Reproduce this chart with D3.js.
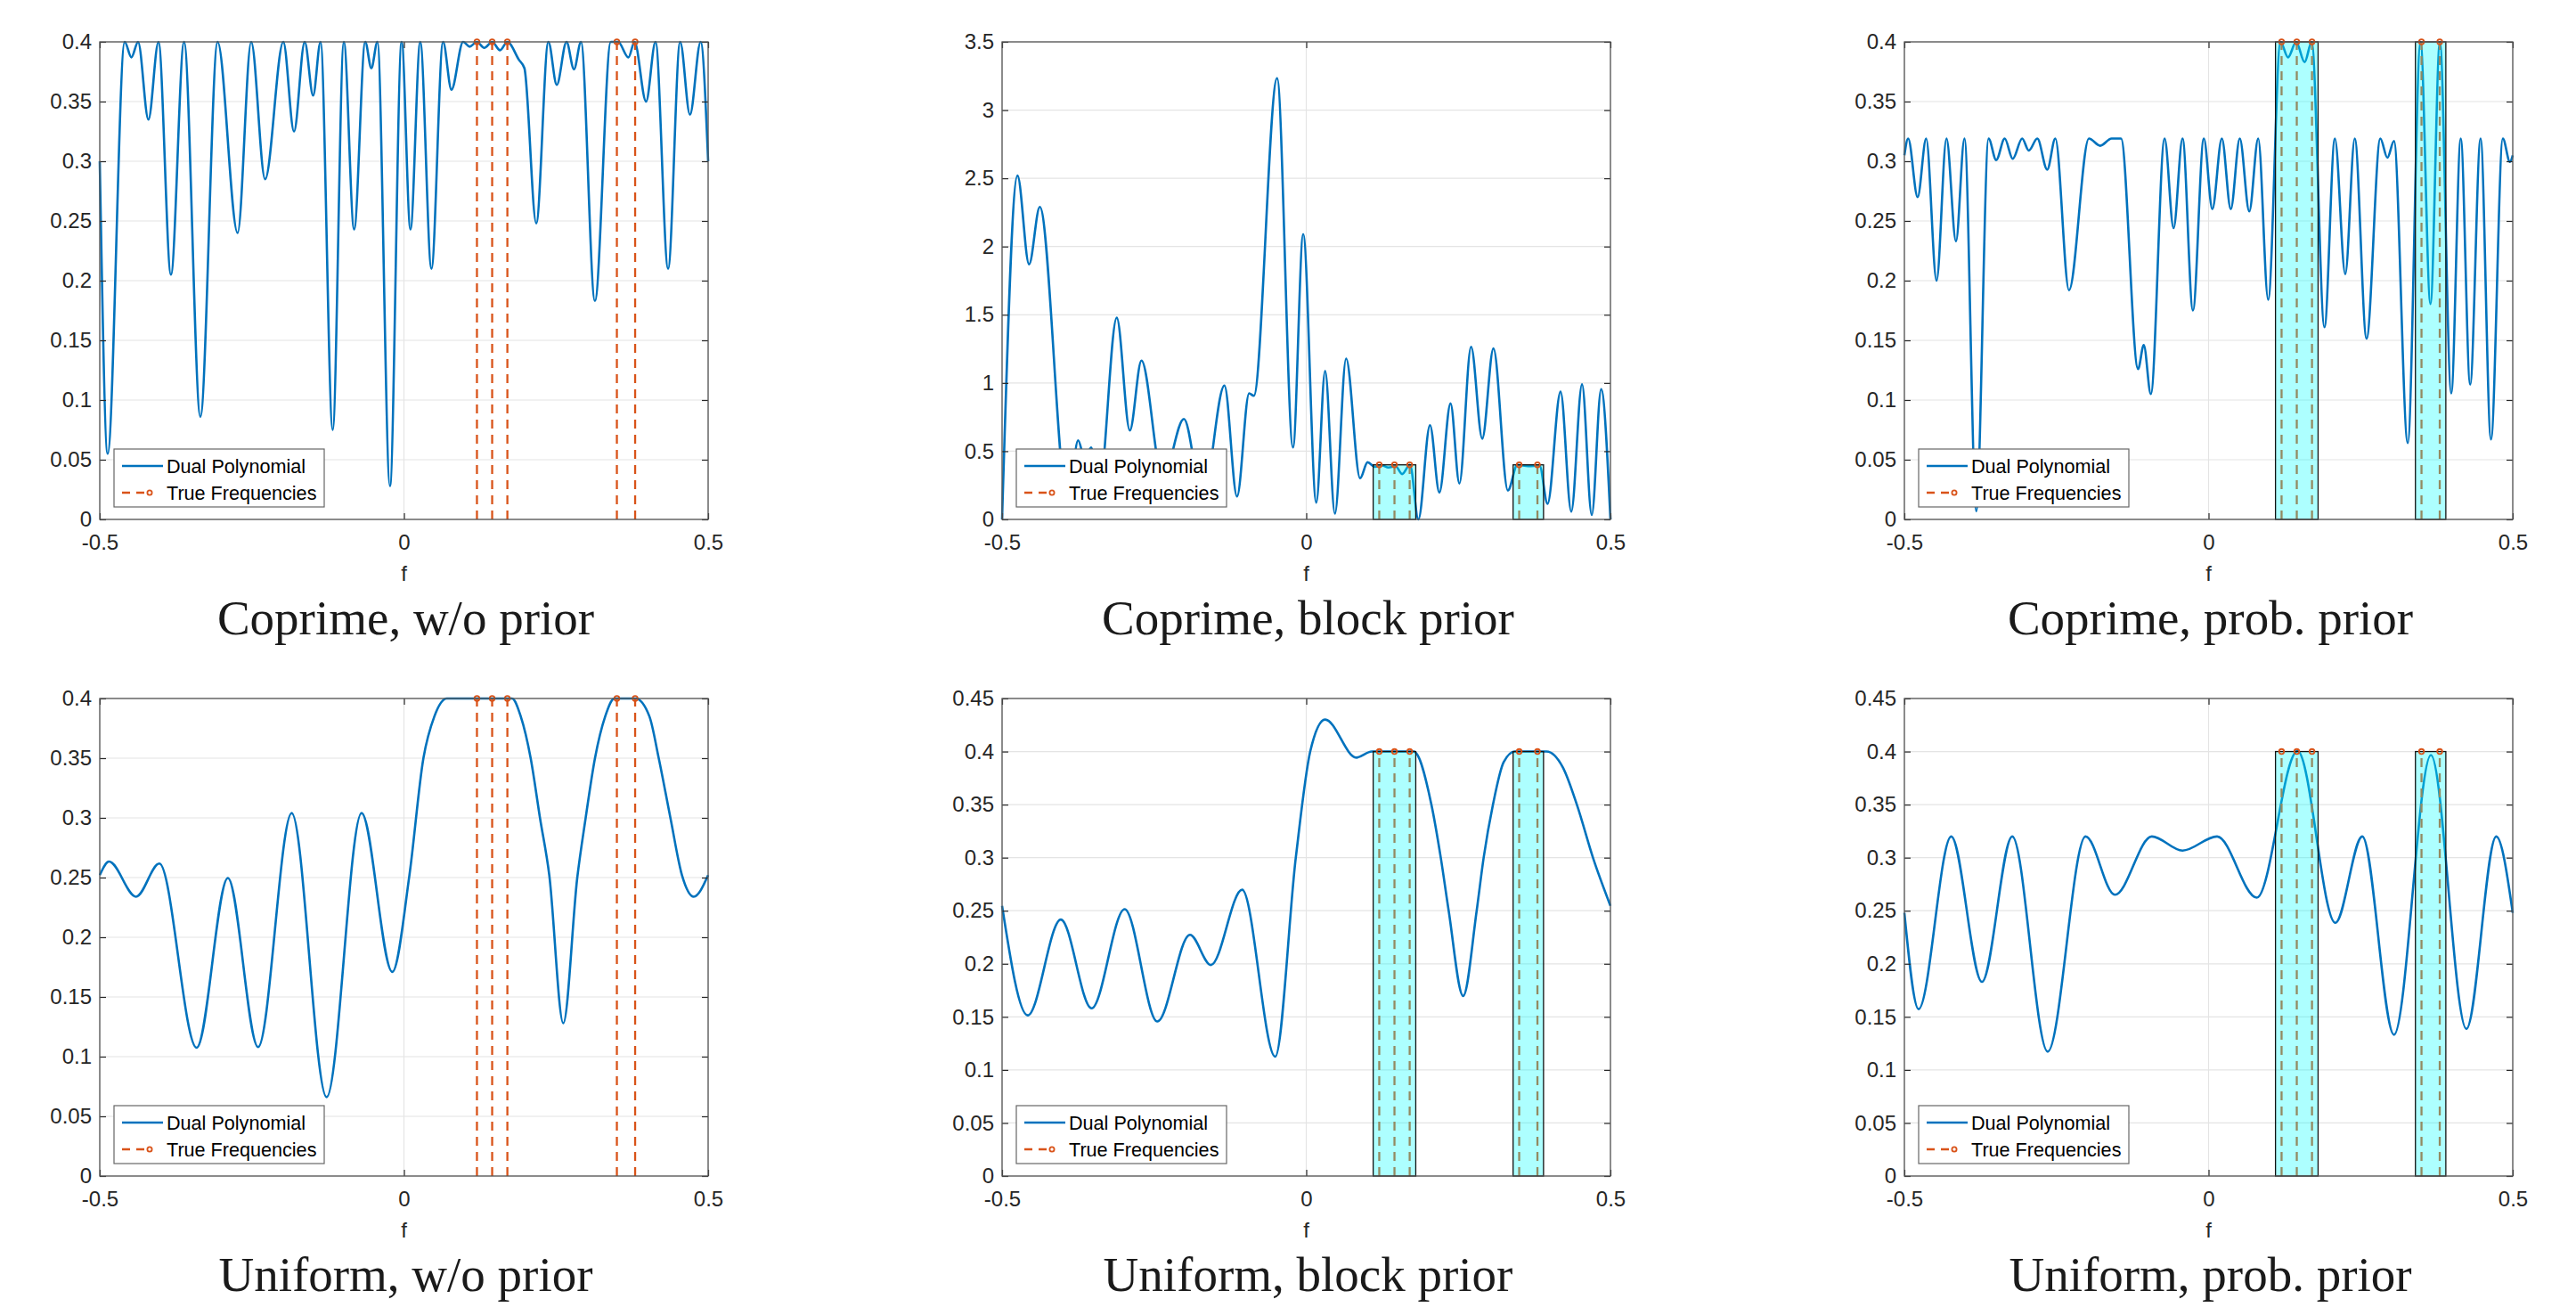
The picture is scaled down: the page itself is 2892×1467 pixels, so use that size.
<!DOCTYPE html>
<html>
<head>
<meta charset="utf-8">
<script src="https://d3js.org/d3.v7.min.js"></script>
<style>
  body { margin: 0; background: #fff; }
</style>
</head>
<body>
<div id="chart"></div>
<script>
// dual polynomial: [f, value]
const coprimeNone = [
  [-0.5, 0.300], [-0.487, 0.055], [-0.459, 0.400], [-0.448, 0.387], [-0.437, 0.400],
  [-0.420, 0.335], [-0.4035, 0.400], [-0.383, 0.205], [-0.3614, 0.400], [-0.3346, 0.086],
  [-0.3063, 0.400], [-0.2734, 0.240], [-0.2511, 0.400], [-0.2282, 0.285], [-0.1983, 0.400],
  [-0.1807, 0.325], [-0.1631, 0.400], [-0.1493, 0.355], [-0.1371, 0.400], [-0.1171, 0.075],
  [-0.0988, 0.400], [-0.0819, 0.243], [-0.0636, 0.400], [-0.0536, 0.378], [-0.0436, 0.400],
  [-0.023, 0.028], [-0.0038, 0.400], [0.0107, 0.243], [0.0268, 0.400], [0.0452, 0.210],
  [0.0643, 0.400], [0.0781, 0.360], [0.0973, 0.400], [0.108, 0.396], [0.120, 0.400],
  [0.132, 0.395], [0.145, 0.400], [0.158, 0.393], [0.170, 0.400], [0.189, 0.385],
  [0.198, 0.378], [0.2175, 0.248], [0.2374, 0.400], [0.2512, 0.364], [0.2672, 0.400],
  [0.2795, 0.377], [0.291, 0.400], [0.3139, 0.183], [0.340, 0.400], [0.352, 0.400],
  [0.369, 0.387], [0.379, 0.400], [0.398, 0.350], [0.4135, 0.400], [0.4342, 0.210],
  [0.454, 0.400], [0.4701, 0.339], [0.4877, 0.400], [0.5, 0.300]
];
const coprimeBlock = [
  [-0.5, 0.0], [-0.4747, 2.52], [-0.4556, 1.87], [-0.438, 2.29], [-0.392, 0.10],
  [-0.375, 0.58], [-0.364, 0.44], [-0.3536, 0.527], [-0.341, 0.20], [-0.3115, 1.478],
  [-0.290, 0.652], [-0.2709, 1.164], [-0.236, 0.30], [-0.2011, 0.736], [-0.170, 0.15],
  [-0.1345, 0.981], [-0.1138, 0.168], [-0.0939, 0.924], [-0.0862, 0.906], [-0.0479, 3.234],
  [-0.0218, 0.527], [-0.005, 2.091], [0.0165, 0.123], [0.031, 1.089], [0.0471, 0.042],
  [0.0655, 1.179], [0.0885, 0.302], [0.1008, 0.419], [0.113, 0.385], [0.125, 0.395],
  [0.135, 0.38], [0.147, 0.39], [0.1575, 0.332], [0.1705, 0.400], [0.1843, 0.0],
  [0.2034, 0.691], [0.2188, 0.197], [0.2372, 0.850], [0.2517, 0.263], [0.2709, 1.265],
  [0.2893, 0.592], [0.3077, 1.253], [0.3314, 0.212], [0.347, 0.400], [0.365, 0.39],
  [0.3835, 0.395], [0.3966, 0.114], [0.418, 0.936], [0.4356, 0.057], [0.4533, 0.990],
  [0.4693, 0.033], [0.4847, 0.954], [0.5, 0.0]
];
const coprimeProb = [
  [-0.5, 0.305], [-0.4938, 0.319], [-0.4782, 0.270], [-0.4642, 0.319], [-0.4471, 0.200],
  [-0.4308, 0.319], [-0.4152, 0.233], [-0.4012, 0.319], [-0.3818, 0.007], [-0.3616, 0.319],
  [-0.3491, 0.301], [-0.3351, 0.319], [-0.3219, 0.302], [-0.3064, 0.319], [-0.2955, 0.309],
  [-0.2815, 0.319], [-0.2652, 0.293], [-0.2519, 0.319], [-0.2294, 0.192], [-0.1967, 0.319],
  [-0.1781, 0.313], [-0.1594, 0.319], [-0.1439, 0.319], [-0.1159, 0.126], [-0.1065, 0.146],
  [-0.0949, 0.105], [-0.0723, 0.319], [-0.0575, 0.244], [-0.0428, 0.319], [-0.0257, 0.175],
  [-0.0078, 0.319], [0.0062, 0.260], [0.0218, 0.319], [0.0365, 0.260], [0.0513, 0.319],
  [0.0669, 0.258], [0.0816, 0.319], [0.098, 0.184], [0.1182, 0.400], [0.1306, 0.387],
  [0.1439, 0.400], [0.1579, 0.383], [0.1695, 0.400], [0.1905, 0.161], [0.2076, 0.319],
  [0.2247, 0.2055], [0.2403, 0.319], [0.2597, 0.1515], [0.2823, 0.319], [0.2939, 0.303],
  [0.3048, 0.317], [0.3274, 0.064], [0.3484, 0.400], [0.3647, 0.1805], [0.3802, 0.400],
  [0.3989, 0.1056], [0.4145, 0.319], [0.430, 0.113], [0.4471, 0.319], [0.4642, 0.067],
  [0.4837, 0.319], [0.4953, 0.2995], [0.5, 0.305]
];
const uniformNone = [
  [-0.5, 0.252], [-0.4847, 0.2634], [-0.4403, 0.234], [-0.402, 0.2617], [-0.3407, 0.1075],
  [-0.2894, 0.2496], [-0.2397, 0.108], [-0.1845, 0.304], [-0.1271, 0.066], [-0.0697, 0.304],
  [-0.0191, 0.171], [0.009, 0.252], [0.032, 0.350], [0.050, 0.385], [0.0704, 0.400],
  [0.1777, 0.400], [0.192, 0.385], [0.2083, 0.350], [0.2236, 0.300], [0.2389, 0.252],
  [0.2619, 0.128], [0.2849, 0.250], [0.2987, 0.300], [0.314, 0.350], [0.3308, 0.385],
  [0.346, 0.400], [0.3806, 0.400], [0.4035, 0.385], [0.4188, 0.350], [0.438, 0.300],
  [0.457, 0.252], [0.4763, 0.234], [0.5, 0.252]
];
const uniformBlock = [
  [-0.5, 0.2546], [-0.4579, 0.1514], [-0.4034, 0.2417], [-0.3529, 0.158], [-0.2985, 0.2515],
  [-0.2448, 0.1456], [-0.1912, 0.2273], [-0.1567, 0.1989], [-0.1054, 0.2698], [-0.051, 0.1125],
  [-0.0172, 0.300], [0.0065, 0.400], [0.031, 0.4302], [0.0824, 0.3943], [0.1077, 0.400],
  [0.1766, 0.400], [0.2057, 0.350], [0.2211, 0.300], [0.2341, 0.250], [0.2579, 0.1697],
  [0.2801, 0.250], [0.2916, 0.300], [0.3069, 0.350], [0.3245, 0.390], [0.3429, 0.400],
  [0.395, 0.400], [0.4218, 0.385], [0.4448, 0.350], [0.4716, 0.2994], [0.5, 0.2546]
];
const uniformProb = [
  [-0.5, 0.248], [-0.4767, 0.1573], [-0.423, 0.320], [-0.3725, 0.183], [-0.3227, 0.320],
  [-0.2644, 0.1172], [-0.2022, 0.320], [-0.154, 0.2651], [-0.0933, 0.320], [-0.0428, 0.3067],
  [0.014, 0.320], [0.0793, 0.2624], [0.1462, 0.4006], [0.2084, 0.2386], [0.2527, 0.320],
  [0.3048, 0.1331], [0.3655, 0.3967], [0.4238, 0.1386], [0.4728, 0.320], [0.5, 0.248]
];

const trueFreqs = [0.12, 0.145, 0.17, 0.35, 0.38];
const stemHeight = 0.4;
const priorBlocks = [[0.11, 0.18], [0.34, 0.39]];

const xTicks = [-0.5, 0, 0.5];
const xTickLabels = ["-0.5", "0", "0.5"];
const ticks040 = [0, 0.05, 0.1, 0.15, 0.2, 0.25, 0.3, 0.35, 0.4];
const labels040 = ["0", "0.05", "0.1", "0.15", "0.2", "0.25", "0.3", "0.35", "0.4"];
const ticks045 = [0, 0.05, 0.1, 0.15, 0.2, 0.25, 0.3, 0.35, 0.4, 0.45];
const labels045 = ["0", "0.05", "0.1", "0.15", "0.2", "0.25", "0.3", "0.35", "0.4", "0.45"];
const ticks35 = [0, 0.5, 1, 1.5, 2, 2.5, 3, 3.5];
const labels35 = ["0", "0.5", "1", "1.5", "2", "2.5", "3", "3.5"];

const titles = ["Coprime, w/o prior", "Coprime, block prior", "Coprime, prob. prior",
                "Uniform, w/o prior", "Uniform, block prior", "Uniform, prob. prior"];
const legendLabels = ["Dual Polynomial", "True Frequencies"];

const panels = [
  {curve: coprimeNone,  yTicks: ticks040, yLabels: labels040, blocks: false},
  {curve: coprimeBlock, yTicks: ticks35,  yLabels: labels35,  blocks: true},
  {curve: coprimeProb,  yTicks: ticks040, yLabels: labels040, blocks: true},
  {curve: uniformNone,  yTicks: ticks040, yLabels: labels040, blocks: false},
  {curve: uniformBlock, yTicks: ticks045, yLabels: labels045, blocks: true},
  {curve: uniformProb,  yTicks: ticks045, yLabels: labels045, blocks: true}
];

const BLUE = "#0072BD", ORANGE = "#D95319", AXIS = "#262626";
const colLeft = [112, 1125, 2138], rowTop = [47, 784];
const W = 683, H = 536;

const svg = d3.select("#chart").append("svg")
  .attr("width", 2892).attr("height", 1467)
  .style("background", "#fff");

panels.forEach((p, i) => drawPanel(p, titles[i], colLeft[i % 3], rowTop[Math.floor(i / 3)]));

function drawPanel(p, title, left, top) {
  const yMax = p.yTicks[p.yTicks.length - 1];
  const x = d3.scaleLinear().domain([-0.5, 0.5]).range([left, left + W]);
  const y = d3.scaleLinear().domain([0, yMax]).range([top + H, top]);
  const g = svg.append("g");

  // grid
  g.selectAll(".gy").data(p.yTicks).join("line")
    .attr("x1", left).attr("x2", left + W)
    .attr("y1", d => y(d)).attr("y2", d => y(d))
    .attr("stroke", "#e4e4e4").attr("stroke-width", 1.2);
  g.selectAll(".gx").data(xTicks).join("line")
    .attr("y1", top).attr("y2", top + H)
    .attr("x1", d => x(d)).attr("x2", d => x(d))
    .attr("stroke", "#e4e4e4").attr("stroke-width", 1.2);

  // dual polynomial
  const line = d3.line().x(d => x(d[0])).y(d => y(d[1])).curve(d3.curveMonotoneX);
  g.append("path").datum(p.curve)
    .attr("d", line)
    .attr("fill", "none")
    .attr("stroke", BLUE)
    .attr("stroke-width", 2.6);

  // true frequencies (stems)
  g.selectAll(".stem").data(trueFreqs).join("line")
    .attr("x1", d => x(d)).attr("x2", d => x(d))
    .attr("y1", y(0)).attr("y2", y(stemHeight))
    .attr("stroke", ORANGE)
    .attr("stroke-width", 2.3)
    .attr("stroke-dasharray", "10,7");

  // prior blocks
  if (p.blocks) {
    g.selectAll(".blk").data(priorBlocks).join("rect")
      .attr("x", d => x(d[0]))
      .attr("width", d => x(d[1]) - x(d[0]))
      .attr("y", y(stemHeight))
      .attr("height", y(0) - y(stemHeight))
      .attr("fill", "#00ffff").attr("fill-opacity", 0.32)
      .attr("stroke", "#111").attr("stroke-width", 1.3);
  }

  g.selectAll(".mk").data(trueFreqs).join("circle")
    .attr("cx", d => x(d)).attr("cy", y(stemHeight)).attr("r", 2.8)
    .attr("fill", "none").attr("stroke", ORANGE).attr("stroke-width", 1.8);

  // axes
  const fmtX = (d, i) => xTickLabels[i];
  const fmtY = (d, i) => p.yLabels[i];
  const axB = g.append("g").attr("transform", `translate(0,${top + H})`)
    .call(d3.axisBottom(x).tickValues(xTicks).tickFormat(fmtX).tickSizeInner(-7).tickSizeOuter(0).tickPadding(17));
  const axT = g.append("g").attr("transform", `translate(0,${top})`)
    .call(d3.axisTop(x).tickValues(xTicks).tickFormat("").tickSizeInner(-7).tickSizeOuter(0));
  const axL = g.append("g").attr("transform", `translate(${left},0)`)
    .call(d3.axisLeft(y).tickValues(p.yTicks).tickFormat(fmtY).tickSizeInner(-7).tickSizeOuter(0).tickPadding(9));
  const axR = g.append("g").attr("transform", `translate(${left + W},0)`)
    .call(d3.axisRight(y).tickValues(p.yTicks).tickFormat("").tickSizeInner(-7).tickSizeOuter(0));
  [axB, axT, axL, axR].forEach(a => {
    a.select(".domain").remove();
    a.selectAll("line").attr("stroke", AXIS).attr("stroke-width", 1.2);
    a.selectAll("text").attr("fill", AXIS)
      .style("font-family", "'Liberation Sans', Arial, Helvetica, sans-serif")
      .style("font-size", "24px");
  });

  g.append("rect")
    .attr("x", left).attr("y", top).attr("width", W).attr("height", H)
    .attr("fill", "none").attr("stroke", "#555").attr("stroke-width", 1.3);

  // x label
  g.append("text")
    .attr("x", left + W / 2).attr("y", top + H + 69)
    .attr("text-anchor", "middle")
    .style("font-family", "'Liberation Sans', Arial, sans-serif")
    .style("font-size", "24px")
    .attr("fill", AXIS)
    .text("f");

  // legend
  const lx = left + 16, ly = top + H - 14 - 65;
  const lg = g.append("g").attr("transform", `translate(${lx},${ly})`);
  lg.append("rect").attr("width", 236).attr("height", 65)
    .attr("fill", "#fff").attr("stroke", "#666").attr("stroke-width", 1.2);
  lg.append("line").attr("x1", 9).attr("x2", 55).attr("y1", 19).attr("y2", 19)
    .attr("stroke", BLUE).attr("stroke-width", 2.6);
  lg.append("line").attr("x1", 9).attr("x2", 37).attr("y1", 49).attr("y2", 49)
    .attr("stroke", ORANGE).attr("stroke-width", 2.3).attr("stroke-dasharray", "9,7");
  lg.append("circle").attr("cx", 40).attr("cy", 49).attr("r", 2.6)
    .attr("fill", "none").attr("stroke", ORANGE).attr("stroke-width", 1.8);
  lg.selectAll(".lt").data(legendLabels).join("text")
    .attr("x", 59).attr("y", (d, i) => 27 + i * 30)
    .style("font-family", "'Liberation Sans', Arial, sans-serif")
    .style("font-size", "21.6px")
    .attr("fill", "#000")
    .text(d => d);

  // subfigure caption
  g.append("text")
    .attr("x", left + W / 2 + 2).attr("y", top + H + 129)
    .attr("text-anchor", "middle")
    .style("font-family", "'Palatino Linotype', Palatino, 'Liberation Serif', serif")
    .style("font-size", "55px")
    .attr("fill", "#1a1a1a")
    .text(title);
}
</script>
</body>
</html>
